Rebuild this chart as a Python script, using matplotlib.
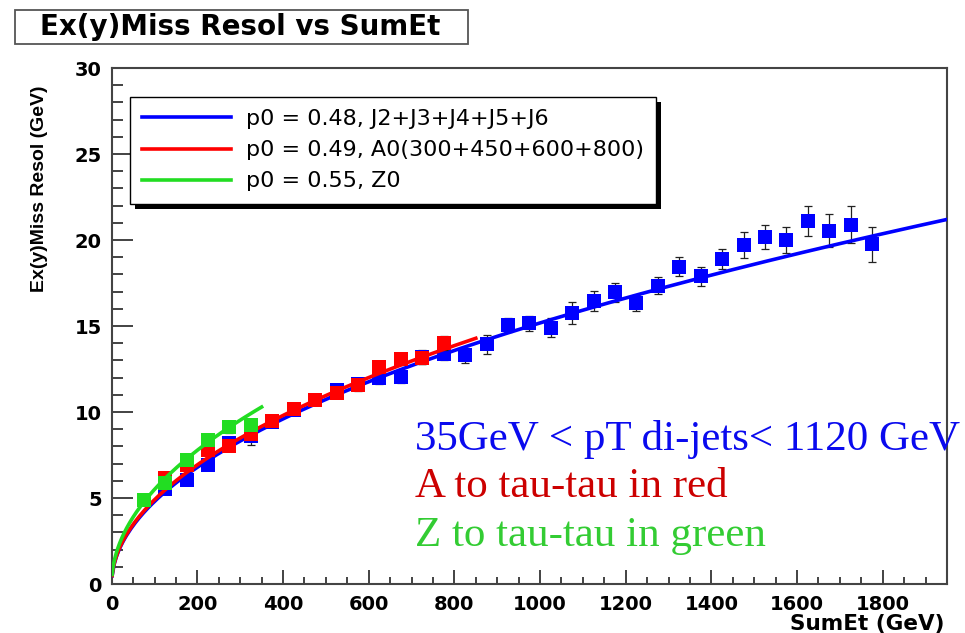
import numpy as np
import matplotlib.pyplot as plt
from matplotlib.patches import Rectangle

# datos (centros de bin en SumEt, GeV)
x_blue = [125, 175, 225, 275, 325, 375, 425, 475, 525, 575, 625, 675, 725, 775,
          825, 875, 925, 975, 1025, 1075, 1125, 1175, 1225, 1275, 1325, 1375,
          1425, 1475, 1525, 1575, 1625, 1675, 1725, 1775]
y_blue = [5.5, 6.05, 6.9, 8.2, 8.6, 9.4, 10.1, 10.7, 11.3, 11.6, 11.95, 12.05, 13.2, 13.4,
          13.3, 13.95, 15.05, 15.15, 14.9, 15.75, 16.45, 16.95, 16.35, 17.35, 18.45, 17.9,
          18.9, 19.7, 20.15, 20.0, 21.1, 20.55, 20.9, 19.75]
e_blue = [0.2, 0.2, 0.2, 0.3, 0.5, 0.25, 0.25, 0.25, 0.25, 0.3, 0.3, 0.35, 0.4, 0.4,
          0.45, 0.55, 0.4, 0.45, 0.55, 0.65, 0.6, 0.55, 0.45, 0.5, 0.55, 0.55,
          0.6, 0.75, 0.7, 0.75, 0.85, 0.95, 1.1, 1.0]

x_red = [125, 175, 225, 275, 325, 375, 425, 475, 525, 575, 625, 675, 725, 775]
y_red = [6.15, 6.9, 7.8, 8.0, 8.75, 9.45, 10.2, 10.7, 11.1, 11.55, 12.6, 13.1, 13.15, 14.0]
e_red = [0.2, 0.2, 0.2, 0.25, 0.25, 0.25, 0.25, 0.25, 0.25, 0.3, 0.3, 0.35, 0.35, 0.4]

x_green = [75, 125, 175, 225, 275, 325]
y_green = [4.9, 5.85, 7.2, 8.35, 9.1, 9.25]
e_green = [0.15, 0.2, 0.2, 0.25, 0.3, 0.35]

# ajustes p0*sqrt(SumEt)
p0_blue, p0_red, p0_green = 0.48, 0.49, 0.55
xmax_blue, xmax_red, xmax_green = 1950, 850, 350
labels = ['p0 = 0.48, J2+J3+J4+J5+J6',
          'p0 = 0.49, A0(300+450+600+800)',
          'p0 = 0.55, Z0']

c_blue = '#0000ff'
c_red = '#ff0000'
c_green = '#22dd22'

fig = plt.figure(figsize=(9.65, 6.33), dpi=100)
W, H = 965, 633
ax = fig.add_axes([111.7 / W, 1 - 584 / H, (947 - 111.7) / W, (584 - 68) / H])

series = [
    (x_blue, y_blue, e_blue, p0_blue, xmax_blue, c_blue),
    (x_red, y_red, e_red, p0_red, xmax_red, c_red),
    (x_green, y_green, e_green, p0_green, xmax_green, c_green),
]
handles = []
for i, (xs, ys, es, p0, xm, col) in enumerate(series):
    z = 3 + 2 * i
    ax.errorbar(xs, ys, yerr=es, fmt='none', ecolor='#222222', elinewidth=0.9,
                capsize=3, capthick=0.9, zorder=z)
    ax.plot(xs, ys, 's', color=col, markersize=9.5, markeredgewidth=0, zorder=z + 0.5)
    xf = np.linspace(1, xm, 400)
    ln, = ax.plot(xf, p0 * np.sqrt(xf), '-', color=col, lw=2.6, zorder=z + 1)
    handles.append(ln)

ax.set_xlim(0, 1950)
ax.set_ylim(0, 30)
ax.set_xticks(np.arange(0, 1801, 200))
ax.set_xticks(np.arange(0, 1951, 50), minor=True)
ax.set_yticks(np.arange(0, 31, 5))
ax.set_yticks(np.arange(0, 31, 1), minor=True)

for sp in ax.spines.values():
    sp.set_linewidth(1.5)
    sp.set_color('#444444')

ax.tick_params(axis='both', which='both', direction='in', colors='#222222', width=1.2)
ax.tick_params(axis='y', which='major', length=15, pad=7)
ax.tick_params(axis='y', which='minor', length=8)
ax.tick_params(axis='x', which='major', length=10, pad=8)
ax.tick_params(axis='x', which='minor', length=5)
for lab in ax.get_xticklabels() + ax.get_yticklabels():
    lab.set_fontfamily('DejaVu Sans')
    lab.set_fontweight('bold')
    lab.set_fontsize(14)
    lab.set_color('black')

# leyenda estilo ROOT
leg = ax.legend(handles, labels, loc='upper left',
                bbox_to_anchor=(130 / W, 1 - 97 / H), bbox_transform=fig.transFigure,
                borderaxespad=0, fancybox=False, framealpha=1, edgecolor='black',
                handlelength=4.0, handletextpad=0.65, borderpad=0.55, labelspacing=0.5,
                prop={'family': 'DejaVu Sans', 'size': 16})
leg.get_frame().set_linewidth(1.0)
leg.set_zorder(20)

# sombra negra desplazada detras de la leyenda
fig.canvas.draw()
bb = leg.get_window_extent()
fig.add_artist(Rectangle(((bb.x0 + 5) / W, (bb.y0 - 5) / H), bb.width / W, bb.height / H,
                         transform=fig.transFigure, facecolor='black', edgecolor='none',
                         zorder=1))
ax.set_zorder(2)
ax.patch.set_alpha(0)

# titulo en caja
fig.add_artist(Rectangle((15 / W, 1 - 44 / H), (468 - 15) / W, 34 / H,
                         transform=fig.transFigure, facecolor='white',
                         edgecolor='#555555', lw=1.3))
fig.text(240 / W, 1 - 27 / H, 'Ex(y)Miss Resol vs SumEt', ha='center', va='center',
         fontsize=20, fontweight='bold', family='DejaVu Sans')

fig.text(40 / W, 1 - 85 / H, 'Ex(y)Miss Resol (GeV)', rotation=90, ha='center', va='top',
         fontsize=14, fontweight='bold', family='Liberation Sans')
fig.text(945 / W, 1 - 624 / H, 'SumEt (GeV)', ha='right', va='center',
         fontsize=15.5, fontweight='bold', family='DejaVu Sans')

# anotaciones
fig.text(415 / W, 1 - 450 / H, '35GeV < pT di-jets< 1120 GeV', color='#0a0aee',
         fontsize=31, family='Liberation Serif', va='baseline')
fig.text(415 / W, 1 - 497 / H, 'A to tau-tau in red', color='#cc0000',
         fontsize=31, family='Liberation Serif', va='baseline')
fig.text(415 / W, 1 - 546 / H, 'Z to tau-tau in green', color='#33cc33',
         fontsize=31, family='Liberation Serif', va='baseline')

fig.savefig('out.png', dpi=100, facecolor='white')
